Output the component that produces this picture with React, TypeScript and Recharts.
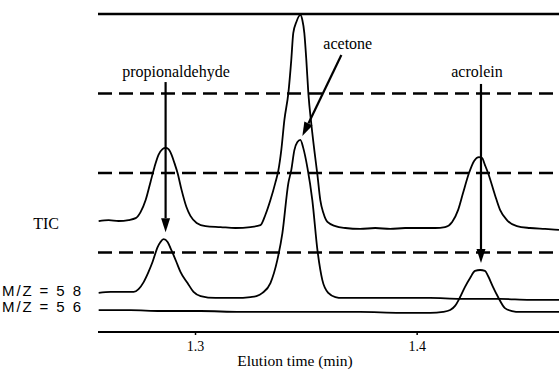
import React from "react";
import {
  LineChart,
  Line,
  XAxis,
  YAxis,
  ReferenceLine,
  ReferenceDot,
} from "recharts";

// Elution time (min) and relative intensity (0-100)
const ticTime = [
  1.2563, 1.2608, 1.2653, 1.2698, 1.273, 1.2752, 1.2775, 1.2797, 1.2815, 1.2833,
  1.2851, 1.2865, 1.2878, 1.2892, 1.2905, 1.2919, 1.2937, 1.2959, 1.2977, 1.3005,
  1.3045, 1.3113, 1.318, 1.3248, 1.3293, 1.3315, 1.3338, 1.336, 1.3374, 1.3387,
  1.3401, 1.3419, 1.3432, 1.3441, 1.3455, 1.3473, 1.3482, 1.3491, 1.35, 1.3509,
  1.3523, 1.3536, 1.355, 1.3563, 1.3577, 1.3595, 1.3631, 1.3676, 1.3743, 1.3811,
  1.3878, 1.3946, 1.4014, 1.4081, 1.4126, 1.4158, 1.4185, 1.4207, 1.4234, 1.4257,
  1.4279, 1.4293, 1.4306, 1.432, 1.4351, 1.4374, 1.4405, 1.445, 1.4509, 1.4577,
  1.464,
];
const ticSignal = [
  34.9, 35.2, 34.9, 35.2, 35.8, 37.7, 41.5, 47.2, 51.9, 55.7,
  57.5, 57.9, 57.5, 55.7, 53.1, 50.0, 44.7, 39.3, 36.5, 34.3,
  33.3, 33.0, 32.7, 33.0, 33.6, 36.8, 41.5, 46.9, 50.9, 57.2,
  66.7, 75.2, 85.5, 94.0, 97.5, 99.7, 98.1, 94.0, 85.5, 75.2,
  65.1, 57.2, 49.4, 41.5, 37.4, 34.6, 33.3, 32.7, 32.4, 32.7,
  32.4, 32.7, 32.7, 32.7, 33.0, 34.6, 38.4, 43.7, 50.0, 53.8,
  55.0, 54.7, 52.5, 50.0, 43.1, 38.4, 35.2, 33.3, 32.7, 32.4,
  32.1,
];

const mz58Time = [
  1.2563, 1.2617, 1.2671, 1.2721, 1.2743, 1.2766, 1.2788, 1.2806, 1.2829, 1.2842,
  1.2856, 1.2874, 1.2887, 1.2901, 1.2919, 1.2932, 1.2964, 1.2991, 1.3023, 1.309,
  1.318, 1.3248, 1.3275, 1.3302, 1.3338, 1.3369, 1.3392, 1.3419, 1.3432, 1.3446,
  1.3459, 1.3473, 1.3486, 1.3505, 1.3527, 1.355, 1.3572, 1.3599, 1.3631, 1.3662,
  1.3788, 1.3923, 1.4059, 1.4194, 1.4374, 1.4509, 1.464,
];
const mz58Signal = [
  12.3, 12.6, 12.6, 12.6, 13.5, 15.7, 18.9, 22.0, 26.7, 28.3,
  29.2, 28.3, 26.4, 24.2, 21.1, 18.9, 15.4, 12.6, 11.3, 10.7,
  10.7, 11.0, 11.3, 12.3, 15.4, 22.6, 31.1, 46.9, 50.9, 57.2,
  59.7, 60.4, 57.9, 51.6, 41.5, 25.8, 16.4, 12.3, 11.0, 10.7,
  10.7, 10.7, 10.7, 10.4, 10.4, 10.1, 10.1,
];

const mz56Time = [
  1.2563, 1.2707, 1.2842, 1.3023, 1.3203, 1.3383, 1.3563, 1.3743, 1.3923, 1.4059,
  1.4117, 1.4149, 1.4171, 1.4194, 1.4216, 1.4239, 1.4261, 1.4284, 1.4306, 1.432,
  1.4342, 1.4365, 1.4396, 1.4428, 1.4464, 1.4554, 1.464,
];
const mz56Signal = [
  6.9, 6.9, 6.6, 6.6, 6.3, 6.3, 6.3, 6.3, 6.0, 6.0,
  6.3, 6.9, 8.2, 11.0, 14.2, 17.0, 19.2, 19.5, 19.2, 17.6,
  14.2, 11.0, 7.5, 6.6, 6.3, 6.3, 6.3,
];

// axis ticks and labels
const xTicks = [1.3, 1.4];
const xTickLabels = ["1.3", "1.4"];
const xTitle = "Elution time (min)";
const dashedLevels = [75, 50, 25];
const topLevel = 100;

const traceNames = ["TIC", "M/Z = 5 8", "M/Z = 5 6"];
const traceLabelLevels = [34.3, 12.9, 7.9];

// peak annotations: label, label anchor (time, level), arrow from -> to
const peakNames = ["propionaldehyde", "acetone", "acrolein"];
const peakLabelTime = [1.2912, 1.3687, 1.427];
const peakLabelLevel = [80.2, 89.0, 80.2];
const arrowFromTime = [1.2865, 1.3658, 1.4288];
const arrowFromLevel = [78.6, 87.1, 78.0];
const arrowToTime = [1.2865, 1.3482, 1.4288];
const arrowToLevel = [31.4, 61.6, 21.7];

const toSeries = (ts: number[], vs: number[]) =>
  ts.map((t, i) => ({ t, v: vs[i] }));

const ticData = toSeries(ticTime, ticSignal);
const mz58Data = toSeries(mz58Time, mz58Signal);
const mz56Data = toSeries(mz56Time, mz56Signal);

const SERIF = "'Liberation Serif', 'Times New Roman', serif";
const SANS = "'Liberation Sans', Arial, sans-serif";

const ArrowShape = (p: any) => {
  const { x1, y1, x2, y2 } = p;
  const dx = x2 - x1;
  const dy = y2 - y1;
  const len = Math.sqrt(dx * dx + dy * dy) || 1;
  const ux = dx / len;
  const uy = dy / len;
  const head = 14;
  const half = 4.5;
  const bx = x2 - ux * head;
  const by = y2 - uy * head;
  const px = -uy * half;
  const py = ux * half;
  return (
    <g>
      <line x1={x1} y1={y1} x2={bx} y2={by} stroke="#000" strokeWidth={2.2} />
      <polygon
        points={`${x2},${y2} ${bx + px},${by + py} ${bx - px},${by - py}`}
        fill="#000"
      />
    </g>
  );
};

const YTick = (p: any) => {
  const idx = traceLabelLevels.indexOf(p.payload.value);
  const name = traceNames[idx] ?? "";
  if (idx === 0) {
    return (
      <text
        x={p.x - 31}
        y={p.y}
        dy="0.35em"
        textAnchor="end"
        fontFamily={SERIF}
        fontSize={16}
        fill="#000"
      >
        {name}
      </text>
    );
  }
  return (
    <text
      x={p.x - 88}
      y={p.y}
      dy="0.35em"
      textAnchor="start"
      fontFamily={SANS}
      fontSize={15}
      fill="#000"
      textLength={79}
      lengthAdjust="spacing"
    >
      {name}
    </text>
  );
};

export default function App() {
  return (
    <div style={{ position: "absolute", left: 0, top: 0, background: "#fff" }}>
      <LineChart
        width={559}
        height={370}
        margin={{ top: 14, right: 0, bottom: 0, left: 0 }}
      >
        <XAxis
          type="number"
          dataKey="t"
          domain={[1.256, 1.464]}
          allowDataOverflow
          ticks={xTicks}
          tickFormatter={(v: number) => xTickLabels[xTicks.indexOf(v)] ?? ""}
          height={38}
          axisLine={{ stroke: "#000", strokeWidth: 2 }}
          tickLine={{ stroke: "#000", strokeWidth: 1.5 }}
          tickSize={3}
          tickMargin={6}
          tick={{ fill: "#000", fontSize: 14, fontFamily: SERIF }}
          label={{
            content: (lp: any) => {
              const vb = lp.viewBox || {};
              return (
                <text
                  x={(vb.x ?? 98) + 197}
                  y={(vb.y ?? 332) + 34}
                  textAnchor="middle"
                  fontFamily={SERIF}
                  fontSize={15.5}
                  fill="#000"
                >
                  {xTitle}
                </text>
              );
            },
          }}
        />
        <YAxis
          type="number"
          domain={[0, 100]}
          width={98}
          ticks={traceLabelLevels}
          interval={0}
          axisLine={false}
          tickLine={false}
          tick={<YTick />}
        />
        <ReferenceLine y={topLevel} stroke="#000" strokeWidth={2.6} />
        {dashedLevels.map((lv) => (
          <ReferenceLine
            key={lv}
            y={lv}
            stroke="#000"
            strokeWidth={2.4}
            strokeDasharray="14 7"
          />
        ))}
        <Line
          data={ticData}
          dataKey="v"
          type="monotone"
          dot={false}
          stroke="#000"
          strokeWidth={1.8}
          isAnimationActive={false}
        />
        <Line
          data={mz58Data}
          dataKey="v"
          type="monotone"
          dot={false}
          stroke="#000"
          strokeWidth={1.8}
          isAnimationActive={false}
        />
        <Line
          data={mz56Data}
          dataKey="v"
          type="monotone"
          dot={false}
          stroke="#000"
          strokeWidth={1.8}
          isAnimationActive={false}
        />
        {peakNames.map((name, i) => (
          <ReferenceLine
            key={"arrow-" + name}
            segment={[
              { x: arrowFromTime[i], y: arrowFromLevel[i] },
              { x: arrowToTime[i], y: arrowToLevel[i] },
            ]}
            stroke="#000"
            shape={(p: any) => <ArrowShape {...p} />}
          />
        ))}
        {peakNames.map((name, i) => (
          <ReferenceDot
            key={"label-" + name}
            x={peakLabelTime[i]}
            y={peakLabelLevel[i]}
            r={0}
            shape={(p: any) => (
              <text
                x={p.cx}
                y={p.cy}
                textAnchor="middle"
                fontFamily={SERIF}
                fontSize={16}
                fill="#000"
              >
                {name}
              </text>
            )}
          />
        ))}
      </LineChart>
    </div>
  );
}
